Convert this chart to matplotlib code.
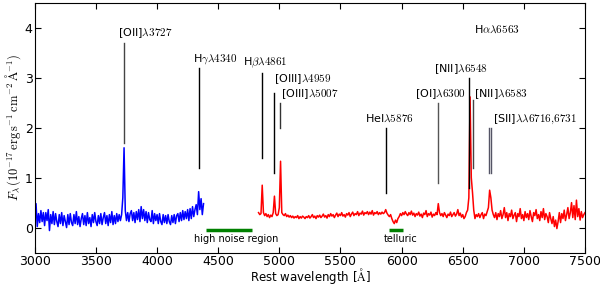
import numpy as np
import matplotlib
matplotlib.use("Agg")
import matplotlib.pyplot as plt

plt.rcParams["mathtext.fontset"] = "cm"
plt.rcParams["font.family"] = "DejaVu Sans"

# ---------- SPECTRUM DATA (10 A sampling) ----------
blue_start = 3000
blue_flux = [
    0.05, 0.48, 0.02, 0.28, 0.10, 0.34, 0.12, 0.30, 0.04, 0.30,
    0.14, 0.36, -0.06, 0.26, 0.08, 0.32, 0.06, 0.28, 0.12, 0.02,
    0.26, 0.08, 0.30, 0.04, 0.24, 0.12, 0.00, 0.26, 0.06, 0.28,
    0.10, 0.04, 0.26, 0.08, 0.32, 0.06, 0.22, 0.02, 0.18, 0.28,
    0.06, 0.24, 0.04, 0.30, 0.08, 0.20, 0.02, 0.26, 0.10, 0.30,
    0.12, 0.04, 0.24, 0.08, 0.28, 0.06, 0.20, 0.30, 0.08, 0.24,
    0.04, 0.26, 0.10, 0.32, 0.06, 0.24, 0.08, 0.28, 0.12, 0.26,
    0.14, 0.26, 0.60, 1.60, 0.34, 0.14, 0.30, 0.12, 0.28, 0.34,
    0.14, 0.30, 0.10, 0.32, 0.16, 0.36, 0.12, 0.42, 0.18, 0.36,
    0.14, 0.32, 0.10, 0.30, 0.16, 0.12, 0.34, 0.08, 0.28, 0.14,
    0.26, 0.08, 0.28, 0.12, 0.06, 0.26, 0.10, 0.24, 0.08, 0.26,
    0.12, 0.06, 0.24, 0.10, 0.26, 0.08, 0.24, 0.28, 0.12, 0.30,
    0.14, 0.34, 0.16, 0.32, 0.18, 0.36, 0.14, 0.38, 0.18, 0.42,
    0.22, 0.36, 0.46, 0.26, 0.72, 0.36, 0.58, 0.26, 0.48,
]

red_start = 4830
red_flux = [
    0.30, 0.26, 0.28, 0.85, 0.30, 0.24, 0.28, 0.22, 0.26, 0.20,
    0.25, 0.22, 0.30, 0.63, 0.28, 0.24, 0.26, 0.40, 1.33, 0.30,
    0.26, 0.24, 0.28, 0.22, 0.25, 0.21, 0.24, 0.20, 0.23, 0.19,
    0.22, 0.20, 0.24, 0.18, 0.22, 0.19, 0.23, 0.21, 0.18, 0.22,
    0.20, 0.24, 0.19, 0.22, 0.26, 0.20, 0.23, 0.18, 0.24, 0.21,
    0.25, 0.20, 0.23, 0.27, 0.21, 0.24, 0.19, 0.26, 0.22, 0.28,
    0.23, 0.26, 0.20, 0.25, 0.29, 0.22, 0.27, 0.24, 0.30, 0.23,
    0.26, 0.21, 0.28, 0.25, 0.30, 0.22, 0.27, 0.31, 0.24, 0.28,
    0.26, 0.32, 0.24, 0.29, 0.27, 0.33, 0.25, 0.30, 0.28, 0.32,
    0.26, 0.31, 0.27, 0.34, 0.25, 0.30, 0.28, 0.32, 0.26, 0.30,
    0.27, 0.31, 0.28, 0.30, 0.36, 0.29, 0.25, 0.22, 0.26, 0.18,
    0.12, 0.08, 0.15, 0.10, 0.18, 0.22, 0.28, 0.24, 0.30, 0.26,
    0.32, 0.27, 0.24, 0.30, 0.26, 0.33, 0.25, 0.29, 0.22, 0.28,
    0.25, 0.31, 0.23, 0.27, 0.20, 0.29, 0.26, 0.34, 0.22, 0.28,
    0.25, 0.31, 0.21, 0.27, 0.24, 0.30, 0.26, 0.48, 0.30, 0.24,
    0.28, 0.22, 0.30, 0.25, 0.20, 0.27, 0.24, 0.31, 0.22, 0.26,
    0.30, 0.23, 0.27, 0.36, 0.24, 0.29, 0.21, 0.26, 0.18, 0.22,
    0.30, 0.35, 0.60, 2.62, 1.00, 0.70, 0.35, 0.18, 0.26, 0.22,
    0.28, 0.20, 0.26, 0.30, 0.18, 0.27, 0.24, 0.32, 0.40, 0.75,
    0.60, 0.35, 0.26, 0.20, 0.30, 0.16, 0.28, 0.22, 0.34, 0.18,
    0.26, 0.40, 0.20, 0.30, 0.14, 0.28, 0.22, 0.35, 0.18, 0.25,
    0.30, 0.12, 0.28, 0.22, 0.38, 0.18, 0.26, 0.14, 0.32, 0.20,
    0.28, 0.16, 0.34, 0.22, 0.12, 0.30, 0.24, 0.36, 0.18, 0.26,
    0.14, 0.32, 0.20, 0.38, 0.16, 0.28, 0.22, 0.10, 0.30, 0.18,
    0.08, 0.22, 0.02, 0.15, -0.02, 0.12, 0.30, 0.10, 0.28, 0.18,
    0.35, 0.14, 0.26, 0.40, 0.18, 0.30, 0.50, 0.20, 0.44, 0.16,
    0.55, 0.22, 0.38, 0.15, 0.32, 0.20, 0.26, 0.30,
]

# ---------- LINE MARKERS ----------
line_names = [r"[OII]$\lambda3727$", r"H$\gamma\lambda4340$", r"H$\beta\lambda4861$",
              r"[OIII]$\lambda4959$", r"[OIII]$\lambda5007$", r"HeI$\lambda5876$",
              r"[OI]$\lambda6300$", r"[NII]$\lambda6548$", r"H$\alpha\lambda6563$",
              r"[NII]$\lambda6583$", r"[SII]$\lambda\lambda6716{,}6731$"]
line_waves = [[3727], [4340], [4861], [4959], [5007], [5876],
              [6300], [6548], [], [6583], [6716, 6731]]
line_tops = [3.7, 3.2, 3.1, 2.7, 2.5, 2.0, 2.5, 3.0, None, 2.55, 2.0]
line_bottoms = [1.7, 1.2, 1.4, 1.1, 2.0, 0.7, 0.9, 0.8, None, 1.2, 1.1]
line_colors = ["#444444", "black", "black", "black", "#333333", "black",
               "#555555", "black", None, "#444444", "#555566"]
label_x = [3680, 4295, 4885, 4960, 5015, 5900, 6320, 6484, 6590, 6590, 6746]
label_y = [3.9, 3.38, 3.3, 2.98, 2.68, 2.18, 2.68, 3.18, 3.98, 2.68, 2.18]
label_ha = ["left", "left", "center", "left", "left", "center", "center",
            "center", "left", "left", "left"]

# ---------- SHADED REGIONS ----------
region_names = ["high noise region", "telluric"]
region_start = [4400, 5900]
region_end = [4780, 6010]
region_text_x = [4650, 5990]

blue_wave = blue_start + 10 * np.arange(len(blue_flux))
red_wave = red_start + 10 * np.arange(len(red_flux))

fig = plt.figure(figsize=(6, 2.85), dpi=100)
ax = fig.add_axes([0.058, 0.114, 0.917, 0.875])

ax.plot(blue_wave, blue_flux, color="blue", lw=1.1)
ax.plot(red_wave, red_flux, color="red", lw=1.1)

for name, waves, top, bot, col, tx, ty, ha in zip(line_names, line_waves, line_tops,
                                                  line_bottoms, line_colors, label_x,
                                                  label_y, label_ha):
    for w in waves:
        ax.plot([w, w], [bot, top], color=col, lw=1.0)
    ax.text(tx, ty, name, ha=ha, va="center", fontsize=8)

for name, a, b, tx in zip(region_names, region_start, region_end, region_text_x):
    ax.plot([a, b], [-0.04, -0.04], color="green", lw=2.5, solid_capstyle="butt")
    ax.text(tx, -0.22, name, ha="center", va="center", fontsize=7)

ax.set_xlim(3000, 7500)
ax.set_ylim(-0.5, 4.5)
ax.set_xticks(np.arange(3000, 7501, 500))
ax.set_yticks([0, 1, 2, 3, 4])
ax.tick_params(direction="in", top=True, right=True, length=4, labelsize=9, pad=1.5)
ax.set_xlabel(r"Rest wavelength [$\mathrm{\AA}$]", fontsize=8.5, labelpad=-1)
ax.set_ylabel(r"$F_\lambda\,(10^{-17}\,\mathrm{erg\,s^{-1}\,cm^{-2}\,\AA^{-1}})$",
              fontsize=9, labelpad=1)

fig.savefig("out.png", dpi=100)
